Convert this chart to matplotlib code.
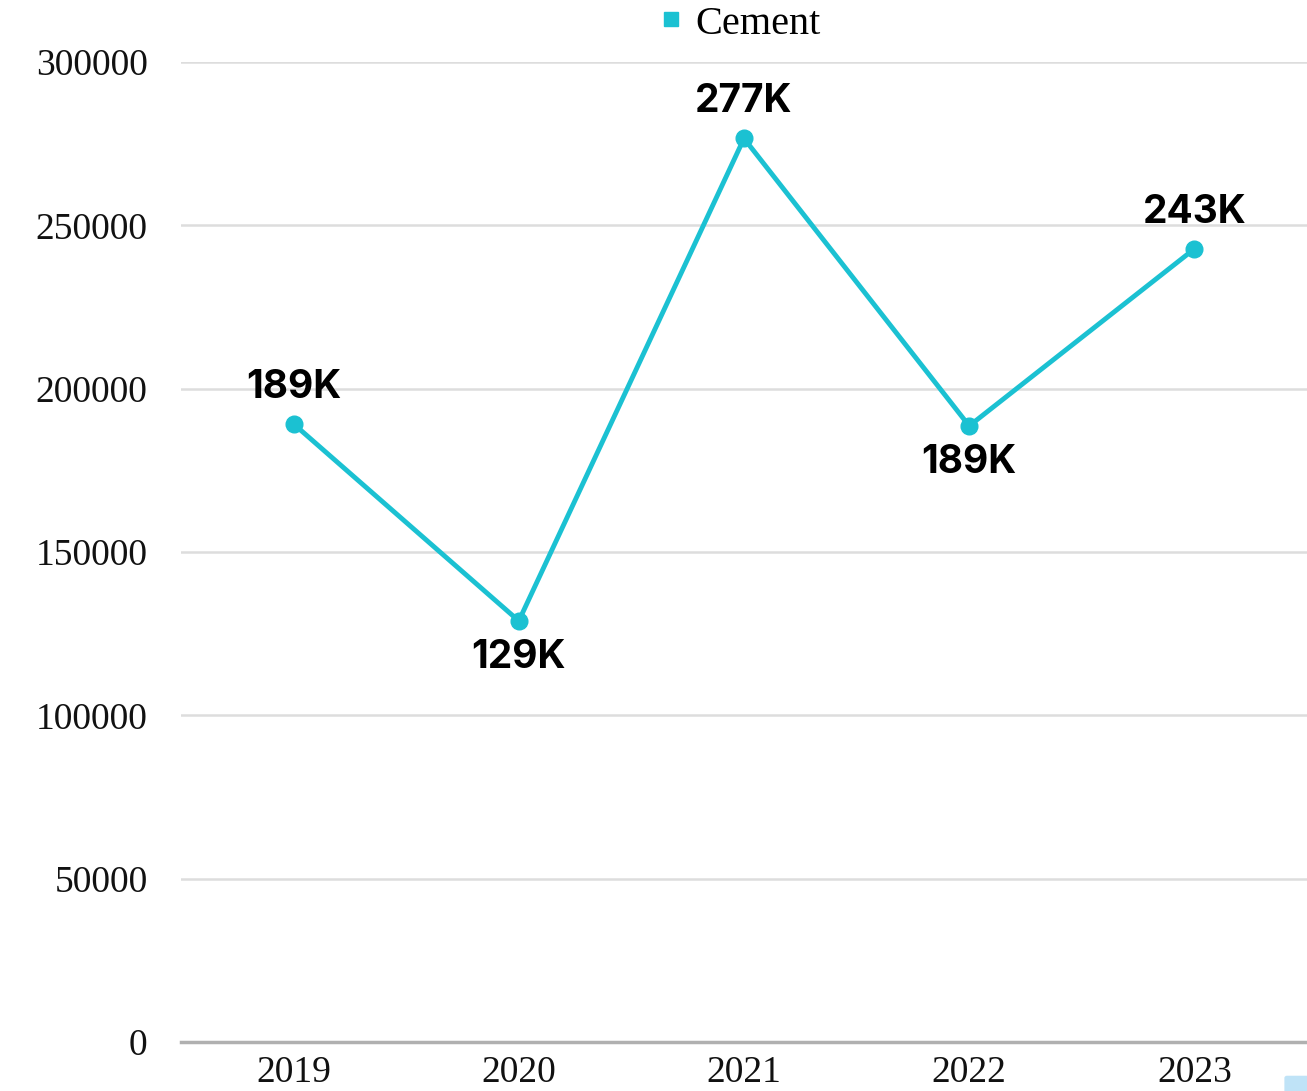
#!/usr/bin/env python3

import matplotlib
matplotlib.use("Agg")
import matplotlib.pyplot as plt
from matplotlib.patches import FancyBboxPatch

years = ["2019", "2020", "2021", "2022", "2023"]
cement = [189200, 128900, 276600, 188600, 242800]
label_above = [True, False, True, False, True]

line_color = "#1BC1D2"
serif = ["Liberation Serif", "DejaVu Serif"]
bold_sans = ["Inter", "Roboto", "DejaVu Sans"]

fig = plt.figure(figsize=(13.07, 10.91), dpi=100)
ax = fig.add_axes([181 / 1307, 49 / 1091, 1 - 181 / 1307, 980 / 1091])

x = list(range(len(years)))
ax.plot(x, cement, color=line_color, linewidth=3.5, marker="o",
        markersize=12, label="Cement", zorder=3, clip_on=False)

for xi, val, above in zip(x, cement, label_above):
    offset = 13 if above else -13
    ax.annotate(f"{round(val / 1000)}K", (xi, val),
                xytext=(0, offset), textcoords="offset points",
                ha="center", va="bottom" if above else "top",
                fontsize=28, fontweight="bold", family=bold_sans, color="#000000")

ax.set_xlim(-0.5, len(years) - 0.5)
ax.set_ylim(0, 300000)
ax.set_yticks(range(0, 300001, 50000))
ax.set_xticks(x)
ax.set_xticklabels(years)

for label in ax.get_yticklabels() + ax.get_xticklabels():
    label.set_family(serif)
    label.set_fontsize(27)
    label.set_color("#111111")

ax.tick_params(axis="both", length=0)
ax.tick_params(axis="y", pad=24)
ax.tick_params(axis="x", pad=10)
ax.grid(axis="y", color="#dddddd", linewidth=1.8)
ax.set_axisbelow(True)
for side in ["top", "right", "left"]:
    ax.spines[side].set_visible(False)
ax.spines["bottom"].set_color("#b0b0b0")
ax.spines["bottom"].set_linewidth(2.5)

leg = fig.legend(handles=[plt.Line2D([], [], color=line_color, marker="s",
                                     linestyle="none", markersize=10)],
                 labels=["Cement"], loc="center", bbox_to_anchor=(740 / 1307, 1 - 24 / 1091),
                 frameon=False, handletextpad=0.3, handlelength=0.6,
                 prop={"family": serif, "size": 29})

# small widget in the corner
fig.patches.append(FancyBboxPatch((1287 / 1307, -0.01), 0.03, 0.022,
                                  boxstyle="round,pad=0.002", transform=fig.transFigure,
                                  facecolor="#bfe3f7", edgecolor="none"))

fig.savefig("out.png", dpi=100)
